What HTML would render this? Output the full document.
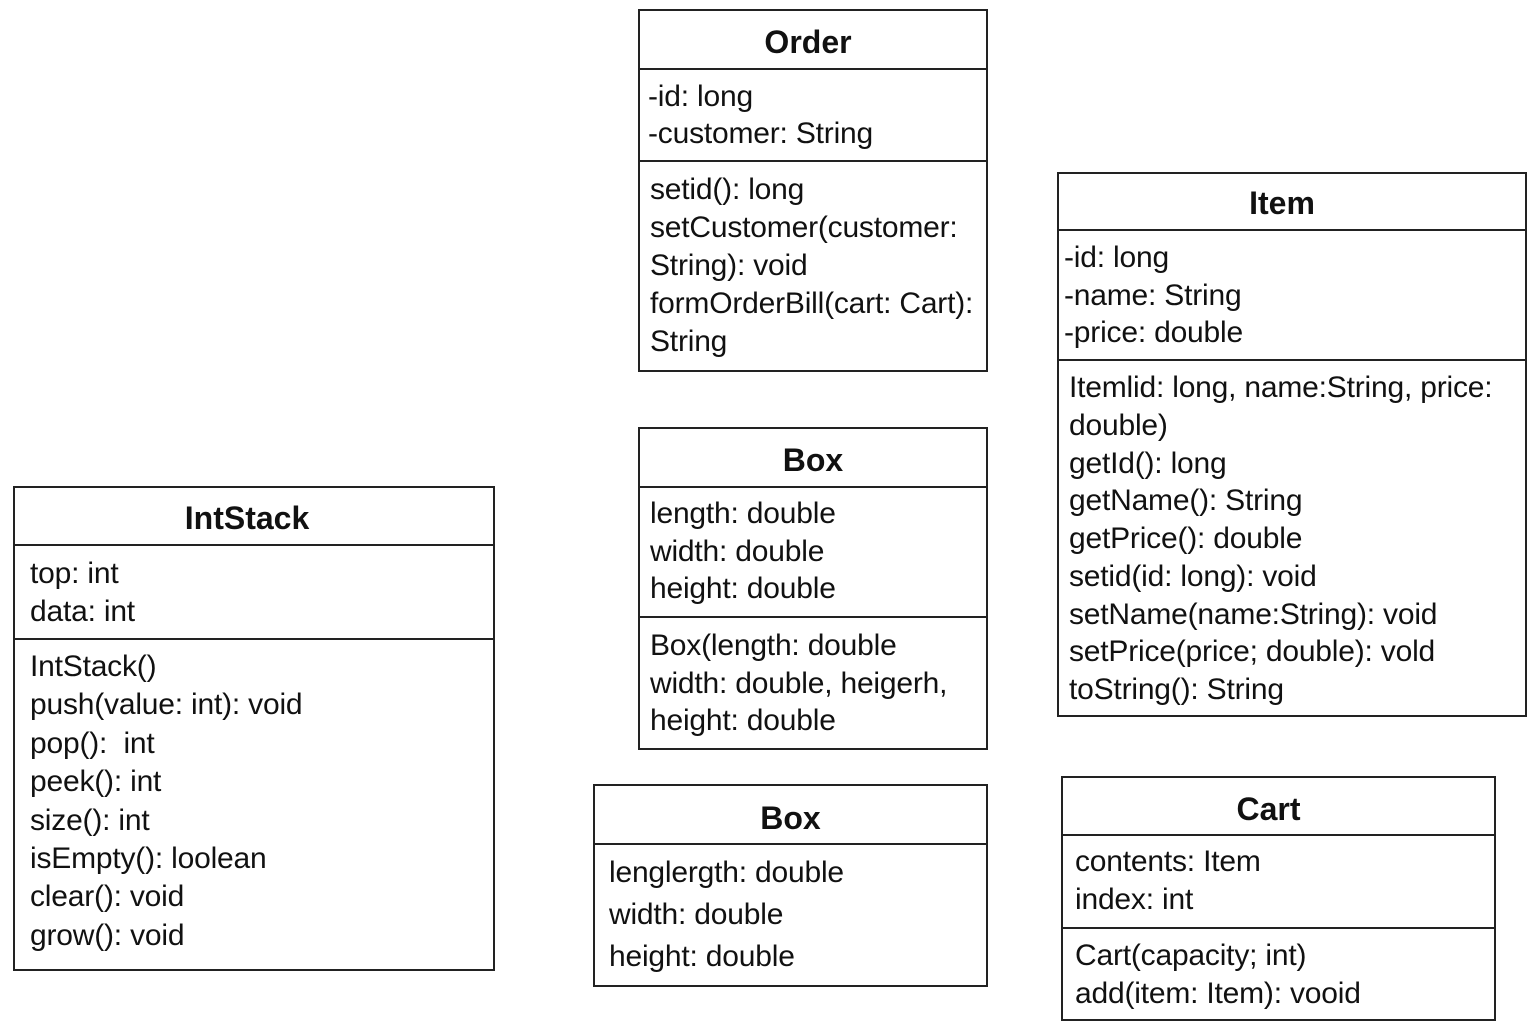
<!DOCTYPE html>
<html><head><meta charset="utf-8"><style>
body{margin:0;width:1536px;height:1024px;background:#fff;position:relative;overflow:hidden;font-family:"Liberation Sans",sans-serif;color:#111}
.b{position:absolute;border:2px solid #222;box-sizing:border-box}
.d{position:absolute;left:0;right:0;border-top:2px solid #222}
.t{position:absolute;left:0;right:0;text-align:center;font-weight:bold;font-size:32px;line-height:40px}
.s{position:absolute;font-size:30px;white-space:nowrap;letter-spacing:-0.2px}
</style></head><body>

<div class="b" style="left:638px;top:9px;width:350px;height:363px">
<div class="t" style="top:11px;padding-right:10px">Order</div>
<div class="d" style="top:57px"></div>
<div class="s" style="left:8px;top:67px;line-height:37px">-id: long<br>-customer: String</div>
<div class="d" style="top:149px"></div>
<div class="s" style="left:10px;top:160px;line-height:38px">setid(): long<br>setCustomer(customer:<br>String): void<br>formOrderBill(cart: Cart):<br>String</div>
</div>

<div class="b" style="left:1057px;top:172px;width:470px;height:545px">
<div class="t" style="top:9px;padding-right:20px">Item</div>
<div class="d" style="top:55px"></div>
<div class="s" style="left:5px;top:65px;line-height:37.5px">-id: long<br>-name: String<br>-price: double</div>
<div class="d" style="top:185px"></div>
<div class="s" style="left:10px;top:195px;line-height:37.75px">Itemlid: long, name:String, price:<br>double)<br>getId(): long<br>getName(): String<br>getPrice(): double<br>setid(id: long): void<br>setName(name:String): void<br>setPrice(price; double): vold<br>toString(): String</div>
</div>

<div class="b" style="left:13px;top:486px;width:482px;height:485px">
<div class="t" style="top:10px;padding-right:14px">IntStack</div>
<div class="d" style="top:56px"></div>
<div class="s" style="left:15px;top:67px;line-height:38px">top: int<br>data: int</div>
<div class="d" style="top:150px"></div>
<div class="s" style="left:15px;top:160px;line-height:38.4px">IntStack()<br>push(value: int): void<br>pop():&nbsp; int<br>peek(): int<br>size(): int<br>isEmpty(): loolean<br>clear(): void<br>grow(): void</div>
</div>

<div class="b" style="left:638px;top:427px;width:350px;height:323px">
<div class="t" style="top:11px">Box</div>
<div class="d" style="top:57px"></div>
<div class="s" style="left:10px;top:66px;line-height:37.5px">length: double<br>width: double<br>height: double</div>
<div class="d" style="top:187px"></div>
<div class="s" style="left:10px;top:198px;line-height:37.5px">Box(length: double<br>width: double, heigerh,<br>height: double</div>
</div>

<div class="b" style="left:593px;top:784px;width:395px;height:203px">
<div class="t" style="top:12px">Box</div>
<div class="d" style="top:57px"></div>
<div class="s" style="left:14px;top:66px;line-height:42px">lenglergth: double<br>width: double<br>height: double</div>
</div>

<div class="b" style="left:1061px;top:776px;width:435px;height:245px">
<div class="t" style="top:11px;padding-right:20px">Cart</div>
<div class="d" style="top:56px"></div>
<div class="s" style="left:12px;top:65px;line-height:38px">contents: Item<br>index: int</div>
<div class="d" style="top:149px"></div>
<div class="s" style="left:12px;top:159px;line-height:38px">Cart(capacity; int)<br>add(item: Item): vooid</div>
</div>

</body></html>
